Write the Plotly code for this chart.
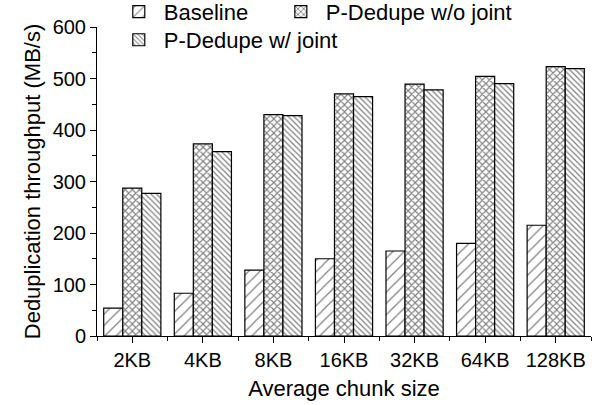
import plotly.graph_objects as go

categories = ["2KB", "4KB", "8KB", "16KB", "32KB", "64KB", "128KB"]
baseline = [54, 83, 128, 150, 165, 180, 215]
wo_joint = [287, 373, 430, 470, 489, 504, 523]
w_joint = [277, 358, 428, 465, 478, 490, 519]
yticks = [0, 100, 200, 300, 400, 500, 600]

xpos = list(range(len(categories)))
FONT = "Liberation Sans, Arial, sans-serif"

fig = go.Figure()
fig.add_trace(go.Bar(
    x=xpos, y=baseline, name="Baseline", legend="legend",
    marker=dict(color="white", line=dict(color="black", width=1.2),
                pattern=dict(shape="/", size=8, solidity=0.15, fgcolor="black", bgcolor="white"))))
fig.add_trace(go.Bar(
    x=xpos, y=wo_joint, name="P-Dedupe w/o joint", legend="legend2",
    marker=dict(color="white", line=dict(color="black", width=1.2),
                pattern=dict(shape="x", size=5, solidity=0.4, fgcolor="black", bgcolor="white"))))
fig.add_trace(go.Bar(
    x=xpos, y=w_joint, name="P-Dedupe w/ joint", legend="legend3",
    marker=dict(color="white", line=dict(color="black", width=1.2),
                pattern=dict(shape="\\", size=4, solidity=0.3, fgcolor="black", bgcolor="white"))))

leg = dict(orientation="h", xanchor="left", yanchor="top",
           bgcolor="rgba(0,0,0,0)", font=dict(size=22), itemwidth=40)

fig.update_layout(
    width=598, height=405,
    margin=dict(l=97, r=7, t=27, b=69, autoexpand=False),
    paper_bgcolor="white", plot_bgcolor="white",
    font=dict(family=FONT, size=20, color="black"),
    barmode="group", bargap=0.19, bargroupgap=0,
    showlegend=True,
    legend=dict(leg, x=0.034, y=1.117),
    legend2=dict(leg, x=0.362, y=1.117),
    legend3=dict(leg, x=0.034, y=1.026),
    xaxis=dict(
        range=[-0.5, 6.5], tickmode="array", tickvals=xpos, ticktext=categories,
        showline=True, linecolor="black", linewidth=1, mirror=False,
        ticks="outside", ticklen=6, tickcolor="black",
        minor=dict(tickmode="linear", tick0=0.5, dtick=1, ticks="outside", ticklen=4, tickcolor="black"),
        showgrid=False, zeroline=False,
        title=dict(text="Average chunk size", font=dict(size=22), standoff=10),
        tickfont=dict(size=20),
    ),
    yaxis=dict(
        range=[0, 600], tickmode="array", tickvals=yticks,
        showline=True, linecolor="black", linewidth=1,
        ticks="outside", ticklen=6, tickcolor="black",
        minor=dict(tickmode="linear", tick0=50, dtick=100, ticks="outside", ticklen=4, tickcolor="black"),
        showgrid=False, zeroline=False,
        title=dict(text="Deduplication throughput (MB/s)", font=dict(size=22), standoff=5),
        tickfont=dict(size=20),
    ),
)

fig.write_html("out.html")
